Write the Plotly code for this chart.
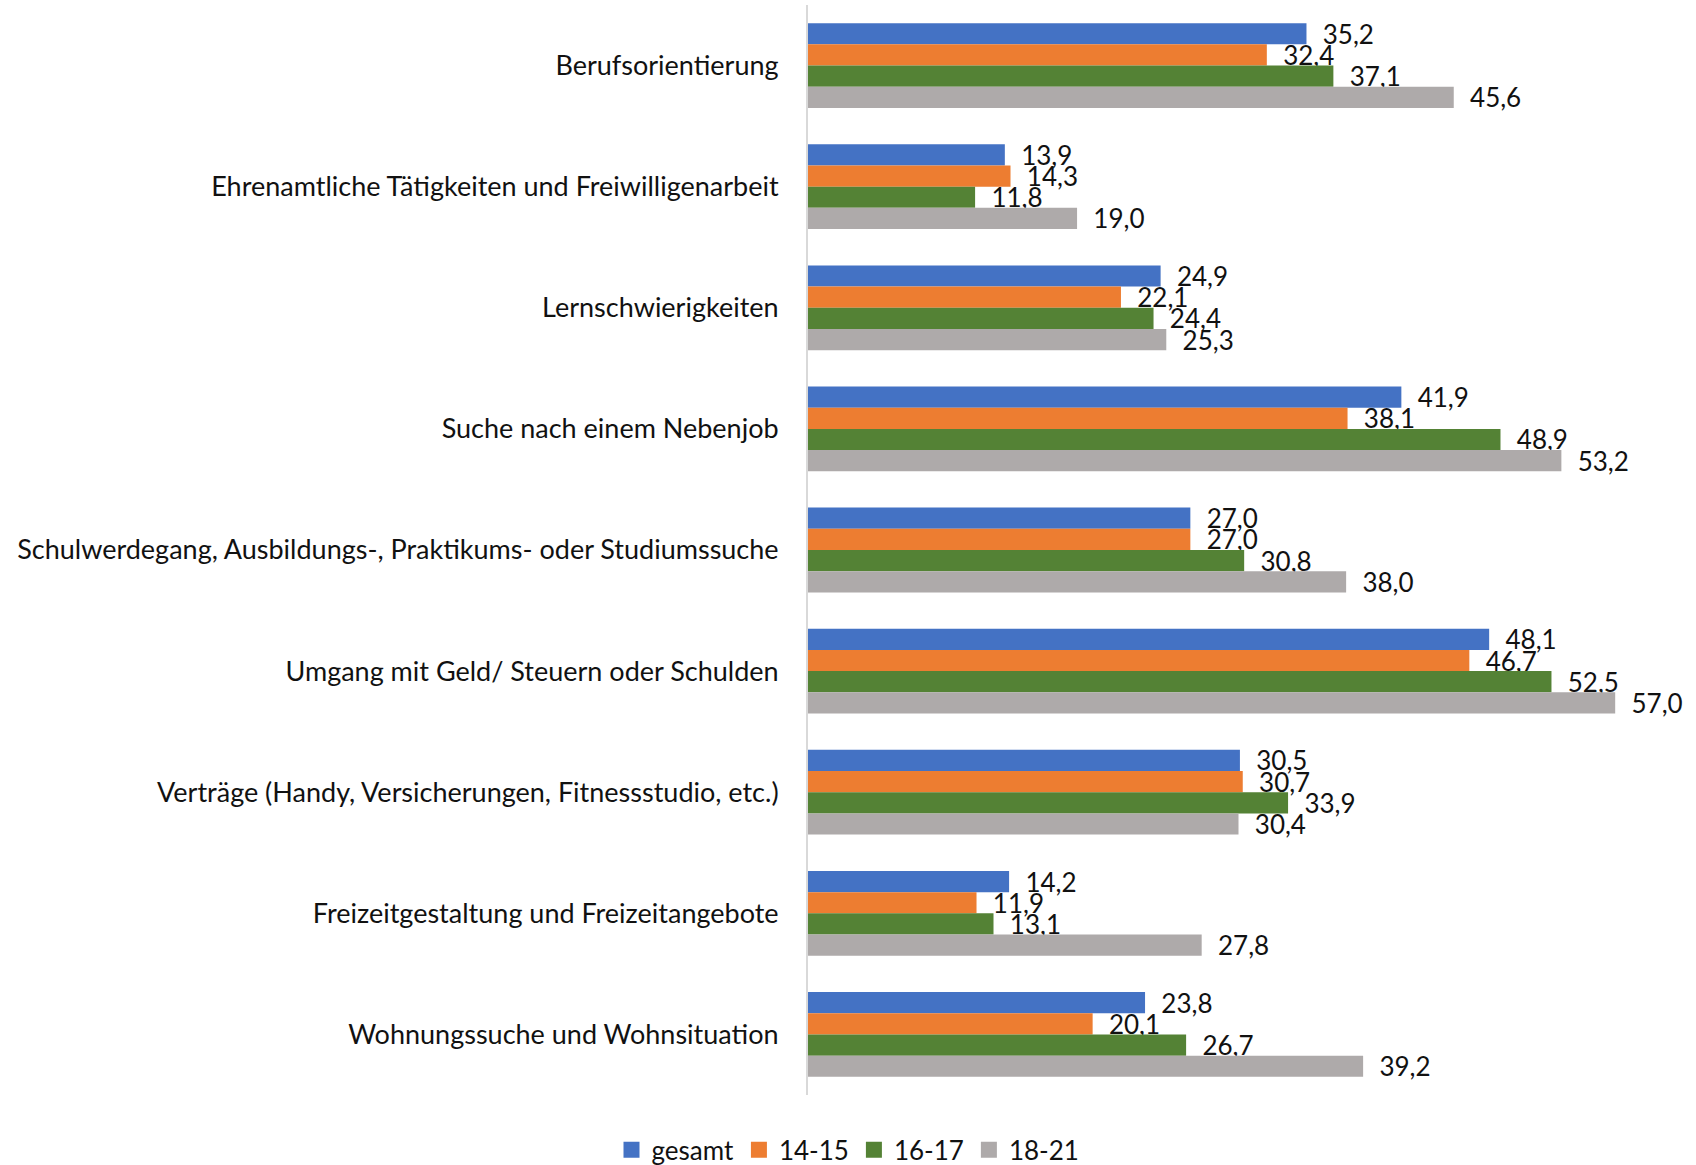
import plotly.graph_objects as go

categories = [
    "Berufsorientierung",
    "Ehrenamtliche Tätigkeiten und Freiwilligenarbeit",
    "Lernschwierigkeiten",
    "Suche nach einem Nebenjob",
    "Schulwerdegang, Ausbildungs-, Praktikums- oder Studiumssuche",
    "Umgang mit Geld/ Steuern oder Schulden",
    "Verträge (Handy, Versicherungen, Fitnessstudio, etc.)",
    "Freizeitgestaltung und Freizeitangebote",
    "Wohnungssuche und Wohnsituation",
]

gesamt = [35.2, 13.9, 24.9, 41.9, 27.0, 48.1, 30.5, 14.2, 23.8]
age_14_15 = [32.4, 14.3, 22.1, 38.1, 27.0, 46.7, 30.7, 11.9, 20.1]
age_16_17 = [37.1, 11.8, 24.4, 48.9, 30.8, 52.5, 33.9, 13.1, 26.7]
age_18_21 = [45.6, 19.0, 25.3, 53.2, 38.0, 57.0, 30.4, 27.8, 39.2]

series = [
    ("gesamt", gesamt, "#4472C4"),
    ("14-15", age_14_15, "#ED7D31"),
    ("16-17", age_16_17, "#548235"),
    ("18-21", age_18_21, "#AEAAAA"),
]

FONT = "Lato"
TEXT = "#111111"

fig = go.Figure()
for name, values, color in series:
    fig.add_trace(go.Bar(
        name=name,
        y=categories,
        x=values,
        orientation="h",
        marker=dict(color=color, line=dict(width=0)),
        texttemplate="\u00a0\u00a0%{x:.1f}",
        textposition="outside",
        textfont=dict(family=FONT, size=26, color=TEXT),
        constraintext="none",
        cliponaxis=False,
        showlegend=False,
    ))

# square legend swatches
for name, values, color in series:
    fig.add_trace(go.Scatter(
        name=name,
        x=[None], y=[None],
        mode="markers",
        marker=dict(symbol="square", size=18, color=color),
        showlegend=True,
    ))

fig.update_layout(
    width=1696,
    height=1165,
    barmode="group",
    bargap=0.30,
    bargroupgap=0,
    separators=",.",
    plot_bgcolor="white",
    paper_bgcolor="white",
    margin=dict(l=808, r=10, t=5, b=70),
    font=dict(family=FONT, size=26, color=TEXT),
    legend=dict(
        orientation="h",
        xref="container", yref="container",
        x=0.5, xanchor="center",
        y=0.013, yanchor="middle",
        font=dict(family=FONT, size=26, color=TEXT),
        traceorder="normal",
        itemsizing="trace",
    ),
    xaxis=dict(
        range=[0, 62],
        showgrid=False,
        showticklabels=False,
        zeroline=False,
        showline=False,
    ),
    yaxis=dict(
        autorange="reversed",
        showline=True,
        linecolor="#D9D9D9",
        linewidth=2,
        ticks="",
        ticklabelstandoff=22,
        tickfont=dict(family=FONT, size=27, color=TEXT),
        showgrid=False,
    ),
)

fig.write_html("out.html")
